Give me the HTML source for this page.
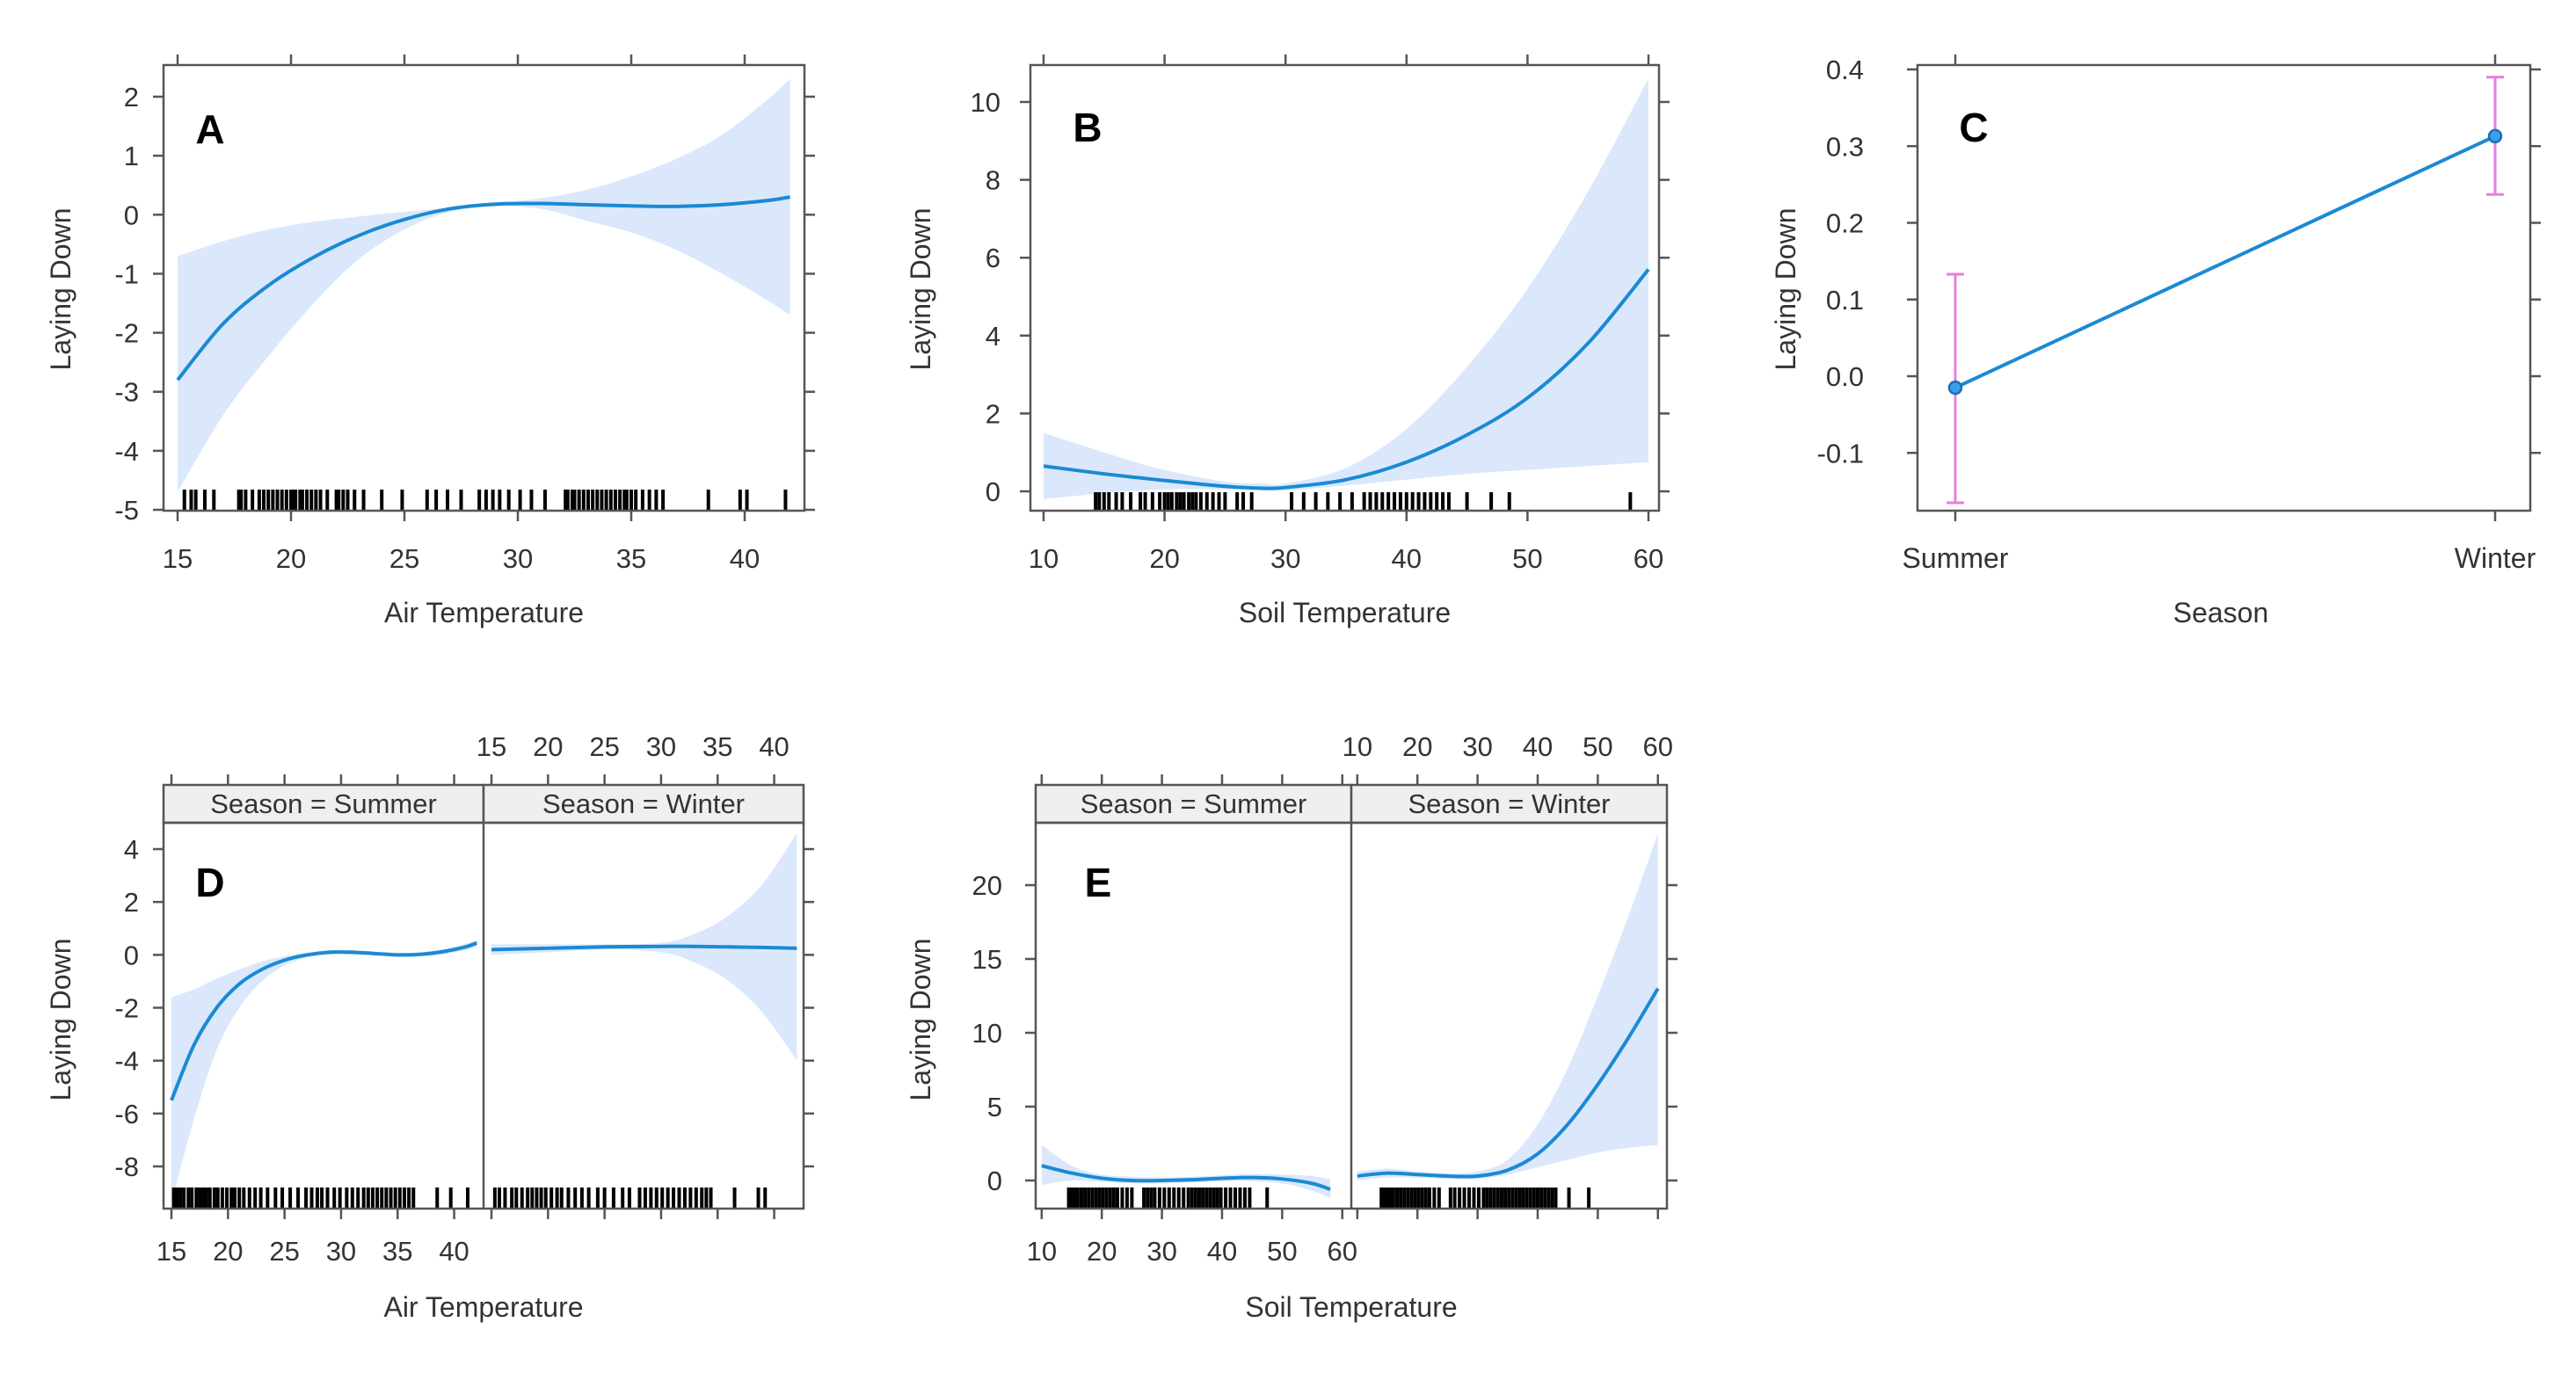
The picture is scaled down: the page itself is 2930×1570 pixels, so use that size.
<!DOCTYPE html>
<html><head><meta charset="utf-8"><style>
html,body{margin:0;padding:0;background:#fff}
svg{display:block}
text{font-family:"Liberation Sans Narrow","Liberation Sans",sans-serif;fill:#333}
</style></head><body>
<svg id="fig" width="2930" height="1570" viewBox="0 0 2930 1570" xmlns="http://www.w3.org/2000/svg"></svg>
<script>
// ---------- Data ----------
const aX=[15,17,19,21,23,25,27,29,31,33,35,37,39,41,42];
const aMean=[-2.8,-1.85,-1.2,-0.72,-0.35,-0.08,0.1,0.18,0.19,0.17,0.15,0.14,0.17,0.24,0.3];
const aHi=[-0.7,-0.45,-0.25,-0.12,-0.03,0.05,0.12,0.2,0.28,0.42,0.65,0.95,1.35,1.95,2.3];
const aLo=[-4.7,-3.4,-2.4,-1.5,-0.75,-0.25,0.05,0.14,0.1,-0.1,-0.3,-0.6,-1.0,-1.45,-1.7];
const aRug=[15.3,15.6,15.8,16.2,16.6,17.7,17.8,18,18.3,18.6,18.8,19,19.2,19.4,19.6,19.8,20,20.1,20.2,20.4,20.5,20.7,20.9,21.1,21.3,21.6,22,22.1,22.3,22.5,22.8,23.2,24,24.9,26,26.4,26.9,27.5,28.3,28.6,28.9,29.2,29.6,30.1,30.6,31.2,32.1,32.2,32.4,32.5,32.7,32.9,33.1,33.3,33.5,33.7,33.9,34.1,34.3,34.5,34.7,34.8,35,35.2,35.5,35.8,36.1,36.4,38.4,39.8,40.1,41.8];
const aTicksX=[15,20,25,30,35,40];
const aTicksY=[-5,-4,-3,-2,-1,0,1,2];

const bX=[10,15,20,25,28,30,35,40,45,50,55,60];
const bMean=[0.65,0.45,0.28,0.13,0.08,0.1,0.3,0.75,1.45,2.4,3.8,5.7];
const bHi=[1.5,1.0,0.55,0.25,0.2,0.2,0.6,1.6,3.2,5.2,7.7,10.6];
const bLo=[-0.2,-0.05,0.05,0.05,0.03,0.02,0.15,0.3,0.45,0.55,0.65,0.75];
const bRug=[14.3,14.6,15,15.4,16,16.5,17.2,18,18.4,19,19.6,20,20.3,20.6,21,21.3,21.6,22,22.3,22.6,23,23.5,24,24.5,25,26,26.5,27.2,30.5,31.5,32.5,33.5,34.5,35.5,36.5,37,37.5,38,38.5,39,39.5,40,40.5,41,41.5,42,42.5,43,43.5,45,47,48.5,58.5];
const bTicksX=[10,20,30,40,50,60];
const bTicksY=[0,2,4,6,8,10];

const cCats=["Summer","Winter"];
const cMean=[-0.015,0.313];
const cLo=[-0.165,0.237];
const cHi=[0.133,0.39];
const cTicksY=[-0.1,0.0,0.1,0.2,0.3,0.4];

const dSumX=[15,17,19,21,23,25,27,29,31,33,35,37,39,41,42];
const dSumMean=[-5.5,-3.4,-2.0,-1.1,-0.55,-0.2,0.0,0.1,0.1,0.05,0.0,0.02,0.12,0.3,0.45];
const dSumHi=[-1.6,-1.3,-0.9,-0.55,-0.25,-0.05,0.08,0.18,0.18,0.12,0.08,0.1,0.22,0.42,0.55];
const dSumLo=[-9.4,-6.2,-3.6,-2.0,-1.0,-0.4,-0.1,0.02,0.02,-0.02,-0.08,-0.06,0.02,0.18,0.3];
const dWinX=[15,20,25,30,33,36,39,42];
const dWinMean=[0.2,0.25,0.3,0.32,0.32,0.3,0.28,0.25];
const dWinHi=[0.4,0.4,0.4,0.45,0.8,1.5,2.7,4.6];
const dWinLo=[0.0,0.1,0.2,0.1,-0.3,-1.0,-2.2,-4.0];
const dSumRug=[15.2,15.5,15.8,16.1,16.5,16.8,17.2,17.5,17.8,18.1,18.4,18.8,19.1,19.5,19.9,20.3,20.6,21,21.4,21.9,22.4,22.9,23.5,24.2,24.8,25.5,26.2,26.9,27.4,27.9,28.3,28.8,29.4,29.9,30.5,31,31.5,32,32.4,32.8,33.2,33.6,34,34.4,34.8,35.2,35.6,36,36.4,38.5,39.7,41.2];
const dWinRug=[15.3,15.7,16.2,16.8,17.2,17.7,18.2,18.6,19,19.4,19.8,20.3,20.8,21.2,21.8,22.4,23,23.6,24.4,25,25.8,26.6,27.2,28.1,28.6,29.1,29.6,30.1,30.6,31.1,31.6,32.1,32.6,33.1,33.6,34,34.4,36.5,38.6,39.2];
const dTicksX=[15,20,25,30,35,40];
const dTicksY=[-8,-6,-4,-2,0,2,4];

const eSumX=[10,15,20,25,30,35,40,45,50,55,58];
const eSumMean=[1.0,0.5,0.15,0.0,0.0,0.05,0.15,0.2,0.1,-0.2,-0.6];
const eSumHi=[2.4,1.0,0.4,0.25,0.2,0.25,0.35,0.45,0.4,0.3,0.1];
const eSumLo=[-0.3,0.0,-0.1,-0.2,-0.2,-0.15,-0.05,-0.05,-0.2,-0.7,-1.2];
const eWinX=[10,15,20,25,30,35,40,45,50,55,60];
const eWinMean=[0.3,0.5,0.4,0.3,0.3,0.7,1.8,3.8,6.5,9.6,13.0];
const eWinHi=[0.6,0.8,0.6,0.5,0.6,1.4,3.8,7.6,12.5,17.8,23.5];
const eWinLo=[0.0,0.2,0.2,0.1,0.1,0.4,0.9,1.4,1.9,2.2,2.4];
const eSumRug=[14.5,15,15.5,16,16.6,17.2,17.8,18.4,19,19.6,20.2,20.8,21.4,22,22.6,23.4,24.2,25,27,27.6,28.2,28.8,29.6,30.4,31.2,32,32.8,33.6,34.4,35,35.6,36.2,36.8,37.4,38,38.6,39.2,39.8,40.6,41.4,42.2,43,43.8,44.6,47.5];
const eWinRug=[14,14.5,15,15.5,16,16.6,17.2,17.8,18.4,19,19.6,20.2,20.8,21.4,22,22.8,23.6,25.5,26.2,27,27.8,28.6,29.4,30.2,31,31.6,32.2,32.8,33.4,34,34.6,35.2,35.8,36.4,37,37.6,38.2,38.8,39.4,40,40.6,41.2,41.8,42.4,43,45.2,48.5];
const eTicksX=[10,20,30,40,50,60];
const eTicksY=[0,5,10,15,20];

// ---------- Helpers ----------
const NS="http://www.w3.org/2000/svg";
const svg=document.getElementById('fig');
function mk(tag,attrs,parent){const e=document.createElementNS(NS,tag);for(const k in attrs)e.setAttribute(k,attrs[k]);(parent||svg).appendChild(e);return e;}
function lin(d0,d1,r0,r1){return v=>r0+(v-d0)*(r1-r0)/(d1-d0);}
const AX="#555", LINE="#1a8ad4", BAND="#dbe8fb";

// Catmull-Rom smooth path through points (no leading M)
function smooth(pts){
  let d="";
  for(let i=0;i<pts.length-1;i++){
    const p0=pts[Math.max(i-1,0)],p1=pts[i],p2=pts[i+1],p3=pts[Math.min(i+2,pts.length-1)];
    const c1x=p1[0]+(p2[0]-p0[0])/6,c1y=p1[1]+(p2[1]-p0[1])/6;
    const c2x=p2[0]-(p3[0]-p1[0])/6,c2y=p2[1]-(p3[1]-p1[1])/6;
    d+="C"+c1x+","+c1y+" "+c2x+","+c2y+" "+p2[0]+","+p2[1];
  }
  return d;
}
function band(g,xs,lo,hi,sx,sy){
  const up=xs.map((x,i)=>[sx(x),sy(hi[i])]);
  const dn=xs.map((x,i)=>[sx(x),sy(lo[i])]).reverse();
  const d="M"+up[0][0]+","+up[0][1]+smooth(up)+"L"+dn[0][0]+","+dn[0][1]+smooth(dn)+"Z";
  const p=mk('path',{d:d,fill:BAND,stroke:"none"},g);
  
  
}
function curve(g,xs,ys,sx,sy){
  const pts=xs.map((x,i)=>[sx(x),sy(ys[i])]);
  const p=mk('path',{d:"M"+pts[0][0]+","+pts[0][1]+smooth(pts),fill:"none",stroke:LINE,"stroke-width":4,"stroke-linejoin":"round"},g);
  
  
}
function rug(g,vals,sx,y0,y1){
  vals.forEach(v=>{
    const l=mk('line',{x1:sx(v),x2:sx(v),y1:y0,y2:y1,stroke:"#000","stroke-width":4},g);
    
    
  });
}
function txt(g,x,y,s,size,anchor,extra){
  const t=mk('text',Object.assign({x:x,y:y,"font-size":size,"text-anchor":anchor||"middle"},extra||{}),g);
  t.textContent=s;return t;
}
function box(g,x0,y0,x1,y1){mk('rect',{x:x0,y:y0,width:x1-x0,height:y1-y0,fill:"none",stroke:AX,"stroke-width":2.5},g);}
function yAxis(g,ticks,sy,x0,x1,labRight,fmt){
  ticks.forEach(t=>{
    mk('line',{x1:x0-12,x2:x0,y1:sy(t),y2:sy(t),stroke:AX,"stroke-width":2.5},g);
    mk('line',{x1:x1,x2:x1+12,y1:sy(t),y2:sy(t),stroke:AX,"stroke-width":2.5},g);
    const l=txt(g,labRight,sy(t)+11,fmt?fmt(t):String(t),31,"end");
    
    
  });
}
function xTicks(g,ticks,sx,y,dir){
  ticks.forEach(t=>mk('line',{x1:sx(t),x2:sx(t),y1:y,y2:y+12*dir,stroke:AX,"stroke-width":2.5},g));
}
function xLabels(g,ticks,sx,y){
  ticks.forEach(t=>{const l=txt(g,sx(t),y,String(t),31);
    
    });
}
function ytitle(g,x,y){const t=txt(g,x,y,"Laying Down",32,"middle",{transform:"rotate(-90 "+x+" "+y+")"});
  }
function xtitle(g,x,y,s){const t=txt(g,x,y,s,32);
  }
function letter(g,x,y,s){const t=txt(g,x,y,s,46,"middle",{"font-weight":"bold","font-family":"Liberation Sans, sans-serif",fill:"#000"});t.style.fill="#000";
  }
function panelG(name){const g=mk('g',{});return g;}

// ---------- Panel A ----------
(function(){
  const g=panelG('panel-a');
  const L=186,R=915,T=74,B=581;
  const sx=lin(15,40,202,847), sy=lin(2,-5,110,580);
  band(g,aX,aLo,aHi,sx,sy); curve(g,aX,aMean,sx,sy);
  rug(g,aRug,sx,557,B);
  box(g,L,T,R,B);
  yAxis(g,aTicksY,sy,L,R,158);
  xTicks(g,aTicksX,sx,B,1); xTicks(g,aTicksX,sx,T,-1);
  xLabels(g,aTicksX,sx,646);
  ytitle(g,80,329); xtitle(g,(L+R)/2,708,"Air Temperature");
  letter(g,239,163,"A");
})();

// ---------- Panel B ----------
(function(){
  const g=panelG('panel-b');
  const L=1172,R=1887,T=74,B=581;
  const sx=lin(10,60,1187,1875), sy=lin(0,10,559,116);
  band(g,bX,bLo,bHi,sx,sy); curve(g,bX,bMean,sx,sy);
  rug(g,bRug,sx,560,B);
  box(g,L,T,R,B);
  yAxis(g,bTicksY,sy,L,R,1138);
  xTicks(g,bTicksX,sx,B,1); xTicks(g,bTicksX,sx,T,-1);
  xLabels(g,bTicksX,sx,646);
  ytitle(g,1058,329); xtitle(g,(L+R)/2,708,"Soil Temperature");
  letter(g,1237,161,"B");
})();

// ---------- Panel C ----------
(function(){
  const g=panelG('panel-c');
  const L=2181,R=2878,T=74,B=581;
  const sxPos=[2224,2838];
  const sx=i=>lin(0,1,sxPos[0],sxPos[1])(i);
  const sy=lin(0,0.4,428,79);
  for(let i=0;i<cCats.length;i++){
    const x=sx(i);
    const eb=mk('g',{},g);
    
    
    mk('line',{x1:x,x2:x,y1:sy(cLo[i]),y2:sy(cHi[i]),stroke:"#e87de0","stroke-width":3},eb);
    mk('line',{x1:x-10,x2:x+10,y1:sy(cLo[i]),y2:sy(cLo[i]),stroke:"#e87de0","stroke-width":3},eb);
    mk('line',{x1:x-10,x2:x+10,y1:sy(cHi[i]),y2:sy(cHi[i]),stroke:"#e87de0","stroke-width":3},eb);
  }
  const ln=mk('line',{x1:sx(0),y1:sy(cMean[0]),x2:sx(1),y2:sy(cMean[1]),stroke:LINE,"stroke-width":4},g);
  
  cMean.forEach((m,i)=>{const c=mk('circle',{cx:sx(i),cy:sy(m),r:7,fill:"#3aa0e8",stroke:"#1a6fb8","stroke-width":2.5},g);
    });
  box(g,L,T,R,B);
  yAxis(g,cTicksY,sy,L,R,2120,t=>t.toFixed(1));
  [0,1].forEach(i=>{mk('line',{x1:sx(i),x2:sx(i),y1:B,y2:B+12,stroke:AX,"stroke-width":2.5},g);
    mk('line',{x1:sx(i),x2:sx(i),y1:T,y2:T-12,stroke:AX,"stroke-width":2.5},g);
    const l=txt(g,sx(i),646,cCats[i],32);});
  ytitle(g,2042,329); xtitle(g,2526,708,"Season");
  letter(g,2245,161,"C");
})();

// ---------- Faceted panels ----------
function facet(name,L,M,R,ticksX,dom0,dom1,sy,ticksY,labRight,series,lett,title,ytx){
  const g=panelG(name);
  const T=893,S=936,B=1375;
  const sxS=lin(dom0,dom1,L,M), sxW=lin(dom0,dom1,M,R);
  const clipId=name+"-clip";
  const cp=mk('clipPath',{id:clipId},g);mk('rect',{x:L,y:S,width:R-L,height:B-S},cp);
  const inner=mk('g',{"clip-path":"url(#"+clipId+")"},g);
  const gs=mk('g',{},inner);
  const gw=mk('g',{},inner);
  band(gs,series.sx,series.slo,series.shi,sxS,sy);curve(gs,series.sx,series.sm,sxS,sy);
  band(gw,series.wx,series.wlo,series.whi,sxW,sy);curve(gw,series.wx,series.wm,sxW,sy);
  rug(gs,series.srug,sxS,1351,B);rug(gw,series.wrug,sxW,1351,B);
  [[L,M,"Season = Summer"],[M,R,"Season = Winter"]].forEach(s=>{
    const r=mk('rect',{x:s[0],y:T,width:s[1]-s[0],height:S-T,fill:"#efefef",stroke:AX,"stroke-width":2.5},g);
    
    const t=txt(g,(s[0]+s[1])/2,T+32,s[2],31);
  });
  box(g,L,S,R,B);
  mk('line',{x1:M,x2:M,y1:S,y2:B,stroke:AX,"stroke-width":2.5},g);
  yAxis(g,ticksY,sy,L,R,labRight);
  xTicks(g,ticksX,sxS,B,1);xTicks(g,ticksX,sxW,B,1);
  xTicks(g,ticksX,sxS,T,-1);xTicks(g,ticksX,sxW,T,-1);
  xLabels(g,ticksX,sxS,1434);xLabels(g,ticksX,sxW,860);
  ytitle(g,ytx,1160);xtitle(g,(L+R)/2,1498,title);
  letter(g,lett[1],1020,lett[0]);
}
facet('panel-d',186,550,914,dTicksX,14.3,42.6,lin(4,-8,966,1327),dTicksY,158,
  {sx:dSumX,sm:dSumMean,shi:dSumHi,slo:dSumLo,wx:dWinX,wm:dWinMean,whi:dWinHi,wlo:dWinLo,srug:dSumRug,wrug:dWinRug},["D",239],"Air Temperature",80);
facet('panel-e',1178,1537,1896,eTicksX,9.0,61.5,lin(0,20,1343,1007),eTicksY,1140,
  {sx:eSumX,sm:eSumMean,shi:eSumHi,slo:eSumLo,wx:eWinX,wm:eWinMean,whi:eWinHi,wlo:eWinLo,srug:eSumRug,wrug:eWinRug},["E",1249],"Soil Temperature",1058);
</script>
</body></html>
